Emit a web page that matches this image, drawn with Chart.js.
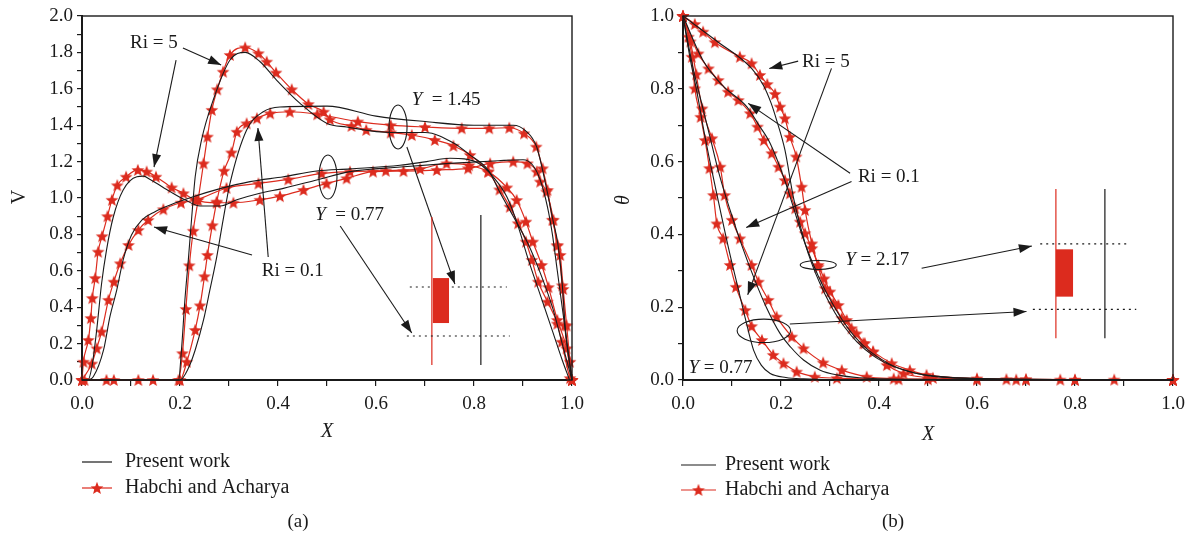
<!DOCTYPE html>
<html>
<head>
<meta charset="utf-8">
<script src="https://cdn.jsdelivr.net/npm/chart.js@4.4.0/dist/chart.umd.min.js"></script>
<style>
  body { margin: 0; background: #fff; }
  #wrap { position: relative; width: 1192px; height: 542px; }
  canvas { position: absolute; top: 0; }
</style>
</head>
<body>
<div id="wrap">
  <canvas id="chartA" width="596" height="542" style="left:0"></canvas>
  <canvas id="chartB" width="596" height="542" style="left:596px"></canvas>
</div>
<script>
// ---- data (a): velocity V along X ----
const tickLabelsA = ['0.0', '0.2', '0.4', '0.6', '0.8', '1.0', '1.2', '1.4', '1.6', '1.8', '2.0'];

// Y = 0.77, Ri = 5
const aRedRi5Y077X = [0, 0.003, 0.013, 0.018, 0.021, 0.027, 0.033, 0.041, 0.052, 0.061, 0.072, 0.09, 0.114, 0.132, 0.151, 0.183, 0.207, 0.231, 0.275, 0.309, 0.363, 0.404, 0.452, 0.499, 0.54, 0.594, 0.656, 0.724, 0.788, 0.833, 0.88, 0.909, 0.928, 0.935, 0.948, 0.962, 0.969, 0.976, 0.982, 0.989, 0.996, 1.0];
const aRedRi5Y077V = [0, 0.10, 0.22, 0.34, 0.45, 0.56, 0.705, 0.79, 0.90, 0.99, 1.07, 1.117, 1.154, 1.145, 1.117, 1.058, 1.026, 0.99, 0.974, 0.974, 0.99, 1.01, 1.044, 1.08, 1.108, 1.145, 1.148, 1.154, 1.163, 1.19, 1.2, 1.19, 1.145, 1.09, 1.035, 0.88, 0.74, 0.687, 0.5, 0.3, 0.1, 0];
const aBlkRi5Y077X = [0, 0.012, 0.02, 0.03, 0.04, 0.05, 0.064, 0.084, 0.112, 0.125, 0.14, 0.18, 0.21, 0.241, 0.282, 0.316, 0.363, 0.411, 0.479, 0.547, 0.65, 0.75, 0.85, 0.9, 0.92, 0.935, 0.95, 0.96, 0.97, 0.98, 0.99, 1.0];
const aBlkRi5Y077V = [0, 0, 0.07, 0.275, 0.53, 0.714, 0.897, 1.044, 1.117, 1.12, 1.1, 1.035, 0.99, 0.956, 0.956, 0.99, 1.026, 1.053, 1.099, 1.145, 1.17, 1.19, 1.205, 1.21, 1.18, 1.1, 0.95, 0.8, 0.6, 0.4, 0.2, 0];

// Y = 0.77, Ri = 0.1
const aRedRi01Y077X = [0, 0.02, 0.03, 0.04, 0.054, 0.065, 0.078, 0.095, 0.115, 0.135, 0.166, 0.202, 0.234, 0.295, 0.36, 0.421, 0.489, 0.547, 0.62, 0.69, 0.744, 0.79, 0.829, 0.867, 0.887, 0.906, 0.92, 0.938, 0.952, 0.97, 0.989, 1.0];
const aRedRi01Y077V = [0, 0.09, 0.174, 0.266, 0.44, 0.54, 0.641, 0.742, 0.824, 0.879, 0.938, 0.974, 0.99, 1.055, 1.08, 1.102, 1.135, 1.145, 1.15, 1.16, 1.19, 1.18, 1.145, 1.058, 0.989, 0.87, 0.76, 0.632, 0.51, 0.33, 0.174, 0];
const aBlkRi01Y077X = [0, 0.01, 0.023, 0.044, 0.057, 0.071, 0.084, 0.101, 0.122, 0.149, 0.18, 0.227, 0.28, 0.343, 0.411, 0.479, 0.547, 0.649, 0.703, 0.751, 0.78, 0.81, 0.839, 0.867, 0.887, 0.911, 0.94, 0.96, 0.98, 0.995];
const aBlkRi01Y077V = [0, 0, 0.018, 0.165, 0.348, 0.495, 0.66, 0.797, 0.879, 0.925, 0.962, 1.007, 1.05, 1.09, 1.117, 1.148, 1.16, 1.18, 1.2, 1.218, 1.215, 1.19, 1.117, 1.007, 0.87, 0.66, 0.43, 0.27, 0.11, 0];

// Y = 1.45, Ri = 5
const aRedRi5Y145X = [0, 0.05, 0.115, 0.197, 0.205, 0.212, 0.219, 0.227, 0.237, 0.248, 0.256, 0.265, 0.276, 0.288, 0.302, 0.333, 0.36, 0.377, 0.396, 0.428, 0.462, 0.493, 0.506, 0.55, 0.58, 0.63, 0.673, 0.72, 0.758, 0.792, 0.829, 0.852, 0.873, 0.89, 0.906, 0.918, 0.931, 0.95, 0.97, 0.979, 0.996, 1.0];
const aRedRi5Y145V = [0, 0, 0, 0, 0.147, 0.39, 0.63, 0.82, 0.99, 1.19, 1.337, 1.484, 1.597, 1.694, 1.786, 1.827, 1.795, 1.749, 1.689, 1.597, 1.516, 1.474, 1.432, 1.396, 1.374, 1.36, 1.346, 1.319, 1.287, 1.236, 1.145, 1.047, 0.952, 0.861, 0.76, 0.66, 0.54, 0.43, 0.31, 0.21, 0.01, 0];
const aBlkRi5Y145X = [0, 0.197, 0.203, 0.21, 0.217, 0.224, 0.231, 0.244, 0.268, 0.302, 0.333, 0.363, 0.397, 0.445, 0.5, 0.54, 0.63, 0.7, 0.76, 0.79, 0.83, 0.853, 0.88, 0.91, 0.935, 0.96, 0.98, 1.0];
const aBlkRi5Y145V = [0, 0, 0.165, 0.44, 0.66, 0.897, 1.117, 1.32, 1.54, 1.758, 1.8, 1.75, 1.648, 1.52, 1.41, 1.39, 1.36, 1.36, 1.3, 1.24, 1.15, 1.03, 0.9, 0.75, 0.59, 0.4, 0.2, 0];

// Y = 1.45, Ri = 0.1
const aRedRi01Y145X = [0.005, 0.065, 0.145, 0.2, 0.214, 0.231, 0.241, 0.25, 0.256, 0.266, 0.275, 0.29, 0.305, 0.316, 0.336, 0.357, 0.384, 0.424, 0.48, 0.563, 0.63, 0.7, 0.775, 0.831, 0.872, 0.902, 0.927, 0.94, 0.95, 0.96, 0.971, 0.98, 0.985, 1.0];
const aRedRi01Y145V = [0, 0, 0, 0, 0.1, 0.275, 0.41, 0.57, 0.687, 0.85, 0.98, 1.15, 1.25, 1.364, 1.41, 1.438, 1.465, 1.474, 1.46, 1.42, 1.4, 1.39, 1.383, 1.383, 1.386, 1.355, 1.282, 1.163, 1.044, 0.88, 0.74, 0.52, 0.3, 0];
const aBlkRi01Y145X = [0, 0.2, 0.217, 0.231, 0.248, 0.261, 0.275, 0.288, 0.302, 0.336, 0.37, 0.404, 0.5, 0.6, 0.7, 0.8, 0.88, 0.905, 0.928, 0.949, 0.961, 0.971, 0.98, 0.987, 1.0];
const aBlkRi01Y145V = [0, 0, 0.064, 0.165, 0.33, 0.495, 0.677, 0.88, 1.08, 1.374, 1.474, 1.5, 1.505, 1.45, 1.42, 1.4, 1.4, 1.37, 1.28, 1.04, 0.88, 0.75, 0.53, 0.26, 0];

// ---- data (b): temperature theta along X ----
const tickLabelsB = ['0.0', '0.2', '0.4', '0.6', '0.8', '1.0'];

// Y = 2.17, Ri = 5
const bRedRi5Y217X = [0, 0.024, 0.041, 0.065, 0.116, 0.14, 0.157, 0.172, 0.188, 0.198, 0.208, 0.218, 0.231, 0.242, 0.249, 0.263, 0.276, 0.29, 0.307, 0.324, 0.344, 0.368, 0.388, 0.426, 0.463, 0.497, 0.6, 0.7, 0.8, 1.0];
const bRedRi5Y217T = [1, 0.978, 0.957, 0.928, 0.888, 0.87, 0.838, 0.813, 0.786, 0.751, 0.719, 0.668, 0.614, 0.531, 0.467, 0.375, 0.311, 0.252, 0.211, 0.17, 0.142, 0.101, 0.078, 0.046, 0.027, 0.014, 0.004, 0.002, 0.001, 0];
const bBlkRi5Y217X = [0, 0.07, 0.14, 0.164, 0.18, 0.191, 0.208, 0.225, 0.24, 0.255, 0.27, 0.29, 0.31, 0.33, 0.355, 0.39, 0.43, 0.47, 0.52, 0.6, 1.0];
const bBlkRi5Y217T = [1, 0.93, 0.856, 0.81, 0.76, 0.714, 0.632, 0.504, 0.42, 0.35, 0.295, 0.235, 0.185, 0.145, 0.105, 0.065, 0.037, 0.02, 0.01, 0.004, 0];

// Y = 2.17, Ri = 0.1
const bRedRi01Y217X = [0, 0.031, 0.052, 0.072, 0.092, 0.113, 0.137, 0.152, 0.165, 0.181, 0.195, 0.208, 0.218, 0.229, 0.239, 0.249, 0.263, 0.276, 0.288, 0.3, 0.317, 0.334, 0.354, 0.371, 0.388, 0.416, 0.45, 0.51, 0.66, 0.77, 0.88, 1.0];
const bRedRi01Y217T = [1, 0.897, 0.856, 0.824, 0.792, 0.769, 0.733, 0.696, 0.659, 0.623, 0.586, 0.549, 0.513, 0.472, 0.435, 0.403, 0.362, 0.316, 0.279, 0.243, 0.206, 0.165, 0.128, 0.101, 0.078, 0.041, 0.018, 0.006, 0.002, 0.001, 0.001, 0];
const bBlkRi01Y217X = [0, 0.04, 0.08, 0.13, 0.155, 0.178, 0.205, 0.225, 0.245, 0.265, 0.285, 0.305, 0.325, 0.35, 0.38, 0.42, 0.46, 0.5, 0.6, 1.0];
const bBlkRi01Y217T = [1, 0.88, 0.81, 0.751, 0.7, 0.65, 0.559, 0.476, 0.39, 0.32, 0.26, 0.21, 0.165, 0.12, 0.08, 0.045, 0.024, 0.012, 0.004, 0];

// Y = 0.77, Ri = 5
const bRedRi5Y077X = [0, 0.011, 0.018, 0.024, 0.036, 0.045, 0.054, 0.062, 0.069, 0.082, 0.096, 0.108, 0.127, 0.14, 0.161, 0.184, 0.205, 0.232, 0.269, 0.314, 0.44, 0.6, 0.8, 1.0];
const bRedRi5Y077T = [1, 0.943, 0.888, 0.801, 0.723, 0.659, 0.582, 0.508, 0.43, 0.389, 0.316, 0.256, 0.192, 0.148, 0.11, 0.069, 0.046, 0.023, 0.009, 0.005, 0.002, 0.001, 0, 0];
const bBlkRi5Y077X = [0, 0.015, 0.03, 0.041, 0.055, 0.076, 0.095, 0.11, 0.127, 0.144, 0.16, 0.178, 0.21, 0.246, 0.3, 1.0];
const bBlkRi5Y077T = [1, 0.88, 0.78, 0.696, 0.6, 0.467, 0.35, 0.266, 0.17, 0.082, 0.04, 0.018, 0.007, 0.003, 0.001, 0];

// Y = 0.77, Ri = 0.1
const bRedRi01Y077X = [0, 0.015, 0.027, 0.039, 0.059, 0.076, 0.085, 0.1, 0.116, 0.14, 0.154, 0.174, 0.191, 0.222, 0.246, 0.286, 0.324, 0.375, 0.43, 0.5, 0.68, 0.7, 1.0];
const bRedRi01Y077T = [1, 0.93, 0.84, 0.746, 0.664, 0.586, 0.508, 0.44, 0.389, 0.316, 0.27, 0.22, 0.174, 0.119, 0.087, 0.048, 0.027, 0.009, 0.004, 0.002, 0.001, 0.001, 0];
const bBlkRi01Y077X = [0, 0.02, 0.04, 0.055, 0.075, 0.096, 0.12, 0.145, 0.17, 0.198, 0.22, 0.246, 0.28, 0.314, 0.36, 0.45, 1.0];
const bBlkRi01Y077T = [1, 0.86, 0.75, 0.668, 0.56, 0.467, 0.37, 0.28, 0.2, 0.128, 0.09, 0.055, 0.027, 0.014, 0.006, 0.002, 0];

// ---- styling ----
const FONT = '"Liberation Serif", "Times New Roman", serif';
const INK = '#1a1a1a';
const RED = '#dc2b1e';

function zip(xs, ys) {
  return xs.map((x, i) => ({ x: x, y: ys[i] }));
}

// small filled five-point star used as marker
function makeStar(size, color) {
  const c = document.createElement('canvas');
  c.width = size; c.height = size;
  const g = c.getContext('2d');
  const cx = size / 2, cy = size / 2 + 0.5, ro = size / 2 - 0.3, ri = ro * 0.43;
  g.fillStyle = color;
  g.beginPath();
  for (let i = 0; i < 10; i++) {
    const r = i % 2 ? ri : ro;
    const a = -Math.PI / 2 + i * Math.PI / 5;
    g.lineTo(cx + r * Math.cos(a), cy + r * Math.sin(a));
  }
  g.closePath();
  g.fill();
  return c;
}
const starImg = makeStar(14, RED);

function blackLine(xs, ys) {
  return { data: zip(xs, ys), borderColor: INK, borderWidth: 1.1, pointRadius: 0, cubicInterpolationMode: 'monotone', clip: false };
}
function redLine(xs, ys) {
  return { data: zip(xs, ys), borderColor: RED, borderWidth: 1.2, pointStyle: starImg, pointRadius: 5, cubicInterpolationMode: 'monotone', clip: false };
}

function toPx(chart, x, y) {
  return [chart.scales.x.getPixelForValue(x), chart.scales.y.getPixelForValue(y)];
}

function drawArrow(ctx, x1, y1, x2, y2, head) {
  ctx.beginPath();
  ctx.moveTo(x1, y1);
  ctx.lineTo(x2, y2);
  ctx.stroke();
  if (!head) return;
  const a = Math.atan2(y2 - y1, x2 - x1), len = 13, w = 4.5;
  ctx.beginPath();
  ctx.moveTo(x2, y2);
  ctx.lineTo(x2 - len * Math.cos(a) + w * Math.sin(a), y2 - len * Math.sin(a) - w * Math.cos(a));
  ctx.lineTo(x2 - len * Math.cos(a) - w * Math.sin(a), y2 - len * Math.sin(a) + w * Math.cos(a));
  ctx.closePath();
  ctx.fill();
}

function drawParts(ctx, x, y, parts, size) {
  ctx.textAlign = 'left';
  ctx.textBaseline = 'middle';
  parts.forEach(p => {
    ctx.font = (p[1] ? 'italic ' : '') + size + 'px ' + FONT;
    ctx.fillText(p[0], x, y);
    x += ctx.measureText(p[0]).width;
  });
}

// annotations in data units, drawn on top of the curves
function drawNotes(chart, notes) {
  const ctx = chart.ctx;
  ctx.save();
  ctx.strokeStyle = INK;
  ctx.fillStyle = INK;
  ctx.lineWidth = 1.1;
  notes.forEach(n => {
    if (n.type === 'text') {
      const p = toPx(chart, n.x, n.y);
      ctx.fillStyle = INK;
      drawParts(ctx, p[0], p[1], n.parts, 19);
    } else if (n.type === 'arrow' || n.type === 'line') {
      const a = toPx(chart, n.x1, n.y1), b = toPx(chart, n.x2, n.y2);
      ctx.strokeStyle = INK; ctx.fillStyle = INK; ctx.setLineDash([]);
      drawArrow(ctx, a[0], a[1], b[0], b[1], n.type === 'arrow');
    } else if (n.type === 'ellipse') {
      const p = toPx(chart, n.x, n.y);
      ctx.beginPath();
      ctx.ellipse(p[0], p[1], n.rx, n.ry, 0, 0, Math.PI * 2);
      ctx.stroke();
    } else if (n.type === 'vline') {
      const a = toPx(chart, n.x, n.y1), b = toPx(chart, n.x, n.y2);
      ctx.strokeStyle = n.color; ctx.lineWidth = 1.2;
      ctx.beginPath(); ctx.moveTo(a[0], a[1]); ctx.lineTo(b[0], b[1]); ctx.stroke();
      ctx.lineWidth = 1.1;
    } else if (n.type === 'dots') {
      const a = toPx(chart, n.x1, n.y), b = toPx(chart, n.x2, n.y);
      ctx.strokeStyle = INK; ctx.setLineDash([2, 4]);
      ctx.beginPath(); ctx.moveTo(a[0], a[1]); ctx.lineTo(b[0], b[1]); ctx.stroke();
      ctx.setLineDash([]);
    } else if (n.type === 'rect') {
      const a = toPx(chart, n.x1, n.y1), b = toPx(chart, n.x2, n.y2);
      ctx.fillStyle = RED;
      ctx.fillRect(a[0], a[1], b[0] - a[0], b[1] - a[1]);
    }
  });
  ctx.restore();
}

// frame, axis titles, legend and panel caption
function drawDecor(chart, d) {
  const ctx = chart.ctx, ca = chart.chartArea;
  ctx.save();
  ctx.strokeStyle = INK;
  ctx.lineWidth = 1.4;
  ctx.strokeRect(ca.left, ca.top, ca.right - ca.left, ca.bottom - ca.top);
  ctx.fillStyle = INK;
  ctx.textAlign = 'center';
  ctx.textBaseline = 'middle';
  ctx.font = 'italic 20px ' + FONT;
  ctx.fillText('X', d.xTitle[0], d.xTitle[1]);
  ctx.save();
  ctx.translate(d.yTitle[0], d.yTitle[1]);
  ctx.rotate(-Math.PI / 2);
  ctx.font = (d.yItalic ? 'italic ' : '') + '20px ' + FONT;
  ctx.fillText(d.yText, 0, 0);
  ctx.restore();
  ctx.font = '19px ' + FONT;
  ctx.fillText(d.caption, d.capPos[0], d.capPos[1]);
  // legend
  const L = d.legend;
  ctx.lineWidth = 1.2;
  ctx.strokeStyle = INK;
  ctx.beginPath(); ctx.moveTo(L.x1, L.y1); ctx.lineTo(L.x2, L.y1); ctx.stroke();
  ctx.strokeStyle = RED;
  ctx.beginPath(); ctx.moveTo(L.x1, L.y2); ctx.lineTo(L.x2, L.y2); ctx.stroke();
  ctx.drawImage(starImg, (L.x1 + L.x2) / 2 - starImg.width / 2, L.y2 - starImg.height / 2);
  ctx.textAlign = 'left';
  ctx.fillStyle = INK;
  ctx.font = '20px ' + FONT;
  ctx.fillText('Present work', L.tx, L.y1);
  ctx.fillText('Habchi and Acharya', L.tx, L.y2);
  ctx.restore();
}

function makePanel(id, datasets, yMax, yLabels, leftW, padRight, decor, notes) {
  const tickFont = { family: FONT, size: 19 };
  return new Chart(document.getElementById(id), {
    type: 'line',
    data: { datasets: datasets },
    options: {
      responsive: false,
      animation: false,
      events: [],
      layout: { padding: { top: 16, right: padRight, left: 0, bottom: 0 } },
      plugins: { legend: { display: false }, tooltip: { enabled: false } },
      scales: {
        x: {
          type: 'linear', min: 0, max: 1,
          ticks: {
            stepSize: 0.1, autoSkip: false, maxRotation: 0, color: INK, font: tickFont, padding: 7,
            callback: v => (Math.round(v * 10) % 2 === 0 ? tickLabelsB[Math.round(v * 5)] : '')
          },
          grid: { drawOnChartArea: false, tickLength: 6, color: INK, lineWidth: 1.2 },
          border: { color: INK, width: 2 },
          afterFit: s => { s.height = 162; }
        },
        y: {
          type: 'linear', min: 0, max: yMax,
          ticks: {
            stepSize: 0.1, autoSkip: false, color: INK, font: tickFont, padding: 4,
            callback: v => (Math.round(v * 10) % 2 === 0 ? yLabels[Math.round(v * 5)] : '')
          },
          grid: { drawOnChartArea: false, tickLength: 5, color: INK, lineWidth: 1.2 },
          border: { color: INK, width: 2 },
          afterFit: s => { s.width = leftW; }
        }
      }
    },
    plugins: [{
      id: 'decor',
      afterDatasetsDraw: chart => { drawNotes(chart, notes); drawDecor(chart, decor); }
    }]
  });
}

// panel (a)
const notesA = [
  { type: 'text', x: 0.098, y: 1.852, parts: [['Ri = 5', false]] },
  { type: 'arrow', x1: 0.206, y1: 1.824, x2: 0.284, y2: 1.731 },
  { type: 'arrow', x1: 0.192, y1: 1.758, x2: 0.147, y2: 1.17 },
  { type: 'text', x: 0.367, y: 0.599, parts: [['Ri = 0.1', false]] },
  { type: 'arrow', x1: 0.347, y1: 0.687, x2: 0.147, y2: 0.841 },
  { type: 'arrow', x1: 0.38, y1: 0.676, x2: 0.359, y2: 1.385 },
  { type: 'text', x: 0.673, y: 1.538, parts: [['Y', true], ['\u2002= 1.45', false]] },
  { type: 'ellipse', x: 0.645, y: 1.39, rx: 9, ry: 22 },
  { type: 'arrow', x1: 0.663, y1: 1.28, x2: 0.761, y2: 0.527 },
  { type: 'ellipse', x: 0.502, y: 1.115, rx: 9, ry: 22 },
  { type: 'text', x: 0.476, y: 0.907, parts: [['Y', true], ['\u2002= 0.77', false]] },
  { type: 'arrow', x1: 0.527, y1: 0.846, x2: 0.673, y2: 0.258 },
  { type: 'vline', x: 0.714, y1: 0.896, y2: 0.082, color: RED },
  { type: 'vline', x: 0.814, y1: 0.907, y2: 0.082, color: INK },
  { type: 'dots', x1: 0.669, x2: 0.867, y: 0.511 },
  { type: 'dots', x1: 0.663, x2: 0.873, y: 0.242 },
  { type: 'rect', x1: 0.716, y1: 0.56, x2: 0.749, y2: 0.313 }
];

makePanel('chartA', [
  blackLine(aBlkRi5Y077X, aBlkRi5Y077V),
  blackLine(aBlkRi01Y077X, aBlkRi01Y077V),
  blackLine(aBlkRi5Y145X, aBlkRi5Y145V),
  blackLine(aBlkRi01Y145X, aBlkRi01Y145V),
  redLine(aRedRi5Y077X, aRedRi5Y077V),
  redLine(aRedRi01Y077X, aRedRi01Y077V),
  redLine(aRedRi5Y145X, aRedRi5Y145V),
  redLine(aRedRi01Y145X, aRedRi01Y145V)
], 2, tickLabelsA, 82, 24, {
  xTitle: [327, 432], yTitle: [20, 197], yText: 'V', yItalic: false,
  caption: '(a)', capPos: [298, 522],
  legend: { x1: 82, x2: 112, y1: 462, y2: 488, tx: 125 }
}, notesA);

// panel (b)
const notesB = [
  { type: 'text', x: 0.243, y: 0.874, parts: [['Ri = 5', false]] },
  { type: 'arrow', x1: 0.235, y1: 0.876, x2: 0.176, y2: 0.856 },
  { type: 'arrow', x1: 0.303, y1: 0.856, x2: 0.132, y2: 0.234 },
  { type: 'text', x: 0.357, y: 0.558, parts: [['Ri = 0.1', false]] },
  { type: 'arrow', x1: 0.341, y1: 0.568, x2: 0.133, y2: 0.76 },
  { type: 'arrow', x1: 0.344, y1: 0.545, x2: 0.129, y2: 0.419 },
  { type: 'ellipse', x: 0.276, y: 0.316, rx: 18, ry: 4.5 },
  { type: 'text', x: 0.331, y: 0.33, parts: [['Y', true], [' = 2.17', false]] },
  { type: 'arrow', x1: 0.487, y1: 0.307, x2: 0.712, y2: 0.368 },
  { type: 'ellipse', x: 0.165, y: 0.135, rx: 26.7, ry: 11.7 },
  { type: 'arrow', x1: 0.218, y1: 0.154, x2: 0.701, y2: 0.188 },
  { type: 'text', x: 0.011, y: 0.032, parts: [['Y', true], [' = 0.77', false]] },
  { type: 'vline', x: 0.761, y1: 0.525, y2: 0.115, color: RED },
  { type: 'vline', x: 0.861, y1: 0.525, y2: 0.115, color: INK },
  { type: 'dots', x1: 0.729, x2: 0.912, y: 0.374 },
  { type: 'dots', x1: 0.714, x2: 0.925, y: 0.194 },
  { type: 'rect', x1: 0.761, y1: 0.359, x2: 0.796, y2: 0.229 }
];

makePanel('chartB', [
  blackLine(bBlkRi5Y217X, bBlkRi5Y217T),
  blackLine(bBlkRi01Y217X, bBlkRi01Y217T),
  blackLine(bBlkRi5Y077X, bBlkRi5Y077T),
  blackLine(bBlkRi01Y077X, bBlkRi01Y077T),
  redLine(bRedRi5Y217X, bRedRi5Y217T),
  redLine(bRedRi01Y217X, bRedRi01Y217T),
  redLine(bRedRi5Y077X, bRedRi5Y077T),
  redLine(bRedRi01Y077X, bRedRi01Y077T)
], 1, tickLabelsB, 87, 19, {
  xTitle: [332, 435], yTitle: [28, 200], yText: 'θ', yItalic: true,
  caption: '(b)', capPos: [297, 522],
  legend: { x1: 85, x2: 120, y1: 465, y2: 490, tx: 129 }
}, notesB);
</script>
</body>
</html>
